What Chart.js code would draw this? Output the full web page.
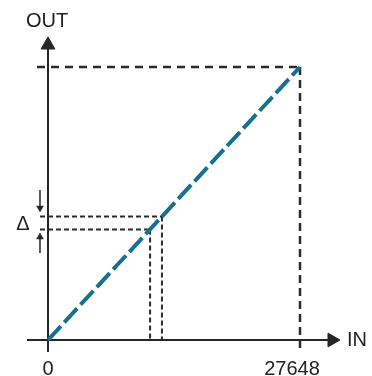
<!DOCTYPE html>
<html>
<head>
<meta charset="utf-8">
<script src="https://cdn.jsdelivr.net/npm/chart.js@4"></script>
<style>
  html, body { margin: 0; padding: 0; background: #fff; }
  #wrap { width: 372px; height: 376px; }
</style>
</head>
<body>
<div id="wrap"><canvas id="chart" width="372" height="376"></canvas></div>
<script>
// values
const fullScale = 27648;
const xTickValues = [0, 27648];
const xTickLabels = ["0", "27648"];
const lineIn = [0, 27648];
const lineOut = [0, 27648];
const deltaIn = [11200, 12500];   // the two close IN values
const deltaOut = [11200, 12500];  // matching OUT values
const axisTitles = ["IN", "OUT"];

// where the guide lines and axes stop (data units)
const xAxisRange = [-2304, 30939];
const yAxisRange = [-1215, 29571];
const arrowHeads = [{ x: 0, y: 29875 }, { x: 31158, y: 0 }];
const guideLeft = -1207;
const deltaLeft = -878;
const guideBottom = -1215;

const ink = "#262626";
const teal = "#17708f";

function seg(a, b) {
  return [a, b];
}

function guide(points, dash, width) {
  return {
    data: points,
    borderColor: "#2a2a2a",
    borderWidth: width,
    borderDash: dash,
    pointRadius: 0,
    showLine: true,
    order: 3,
  };
}

const textPlugin = {
  id: "texts",
  afterDatasetsDraw(chart) {
    const { ctx } = chart;
    const xs = chart.scales.x;
    const ys = chart.scales.y;
    ctx.save();
    ctx.fillStyle = "#222";
    ctx.font = '20px "Liberation Sans", Arial, sans-serif';
    const y0 = ys.getPixelForValue(0);

    // tick labels under the IN axis
    ctx.textAlign = "center";
    ctx.textBaseline = "alphabetic";
    xTickValues.forEach((v, i) => {
      let px = xs.getPixelForValue(v);
      if (i === 1) px -= 8;
      ctx.fillText(xTickLabels[i], px, y0 + 35);
    });

    // axis titles
    ctx.textAlign = "left";
    ctx.textBaseline = "middle";
    ctx.fillText(axisTitles[0], xs.getPixelForValue(arrowHeads[1].x) + 15, y0);
    ctx.textAlign = "center";
    ctx.textBaseline = "alphabetic";
    ctx.fillText(axisTitles[1], xs.getPixelForValue(0) - 1, ys.getPixelForValue(arrowHeads[0].y) - 18);

    // delta sign
    ctx.textBaseline = "middle";
    const yd = (ys.getPixelForValue(deltaOut[0]) + ys.getPixelForValue(deltaOut[1])) / 2;
    ctx.fillText("\u0394", xs.getPixelForValue(0) - 25, yd + 1);
    ctx.restore();
  },
};

const datasets = [
  // characteristic
  {
    data: lineIn.map((v, i) => ({ x: v, y: lineOut[i] })),
    borderColor: teal,
    borderWidth: 4,
    borderDash: [19, 5],
    pointRadius: 0,
    showLine: true,
    order: 1,
  },
  // axes
  {
    data: seg({ x: 0, y: yAxisRange[0] }, { x: 0, y: yAxisRange[1] }),
    borderColor: ink,
    borderWidth: 2,
    pointRadius: 0,
    showLine: true,
    order: 2,
  },
  {
    data: seg({ x: xAxisRange[0], y: 0 }, { x: xAxisRange[1], y: 0 }),
    borderColor: ink,
    borderWidth: 2,
    pointRadius: 0,
    showLine: true,
    order: 2,
  },
  {
    data: arrowHeads,
    showLine: false,
    pointStyle: "triangle",
    pointRadius: 8,
    pointRotation: [0, 90],
    pointBackgroundColor: ink,
    pointBorderColor: ink,
    pointBorderWidth: 1,
    order: 2,
  },
  // full scale guides
  guide(seg({ x: guideLeft, y: lineOut[1] }, { x: lineIn[1], y: lineOut[1] }), [8, 6], 2.5),
  guide(seg({ x: lineIn[1], y: lineOut[1] }, { x: lineIn[1], y: guideBottom }), [8, 5], 2.5),
  // delta guides
  guide(seg({ x: deltaLeft, y: deltaOut[1] }, { x: deltaIn[1], y: deltaOut[1] }), [5, 3], 2),
  guide(seg({ x: deltaLeft, y: deltaOut[0] }, { x: deltaIn[0], y: deltaOut[0] }), [5, 3], 2),
  guide(seg({ x: deltaIn[1], y: deltaOut[1] }, { x: deltaIn[1], y: 0 }), [5, 3], 2),
  guide(seg({ x: deltaIn[0], y: deltaOut[0] }, { x: deltaIn[0], y: 0 }), [5, 3], 2),
  // small delta arrows
  {
    data: seg({ x: deltaLeft, y: 15190 }, { x: deltaLeft, y: 13570 }),
    borderColor: ink,
    borderWidth: 1.5,
    pointRadius: 0,
    showLine: true,
    order: 2,
  },
  {
    data: seg({ x: deltaLeft, y: 10532 }, { x: deltaLeft, y: 8810 }),
    borderColor: ink,
    borderWidth: 1.5,
    pointRadius: 0,
    showLine: true,
    order: 2,
  },
  {
    data: [{ x: deltaLeft, y: 13368 }, { x: deltaLeft, y: 10431 }],
    showLine: false,
    pointStyle: "triangle",
    pointRadius: 4,
    pointRotation: [180, 0],
    pointBackgroundColor: ink,
    pointBorderColor: ink,
    pointBorderWidth: 0.5,
    order: 2,
  },
];

new Chart(document.getElementById("chart").getContext("2d"), {
  type: "scatter",
  data: { datasets },
  options: {
    responsive: false,
    animation: false,
    layout: { padding: 0, autoPadding: false },
    plugins: {
      legend: { display: false },
      tooltip: { enabled: false },
    },
    scales: {
      x: { type: "linear", display: false, min: -5266, max: 35547 },
      y: { type: "linear", display: false, min: -3646, max: 34433 },
    },
  },
  plugins: [textPlugin],
});
</script>
</body>
</html>
